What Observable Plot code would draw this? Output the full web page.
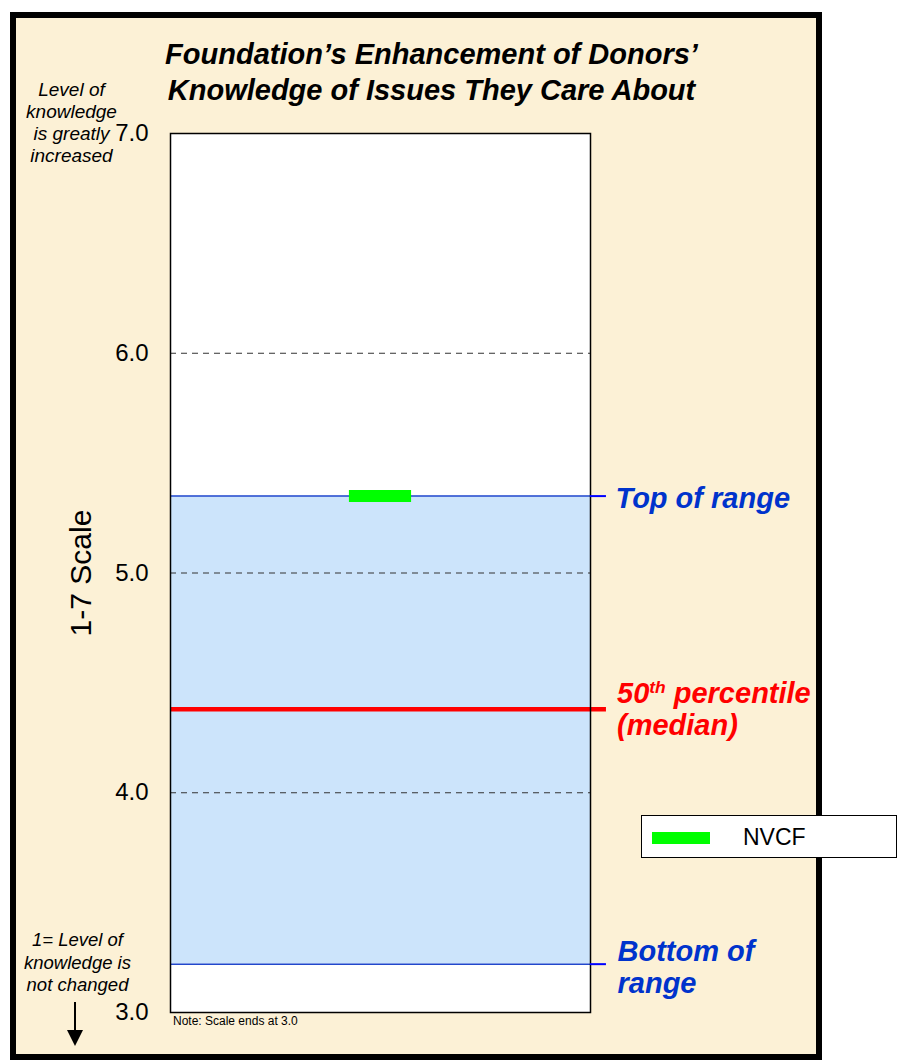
<!DOCTYPE html>
<html>
<head>
<meta charset="utf-8">
<script src="https://cdn.jsdelivr.net/npm/d3@7"></script>
<script src="https://cdn.jsdelivr.net/npm/@observablehq/plot@0.6"></script>
<style>
  html, body { margin: 0; padding: 0; background: #ffffff; }
  #wrap { position: relative; width: 899px; height: 1063px; overflow: hidden; font-family: "Liberation Sans", Arial, sans-serif; }
  #panel { position: absolute; left: 10px; top: 12px; width: 800px; height: 1036px; border: 6px solid #000; background: #FCF1D6; }
  #chart { position: absolute; left: 0; top: 0; }
  .ann { position: absolute; white-space: nowrap; }
  #title { left: 0; width: 863px; top: 36px; text-align: center; font-size: 29px; line-height: 36px; font-weight: bold; font-style: italic; color: #000; }
  #topNote { left: 11px; width: 121px; top: 79px; text-align: center; font-size: 19px; line-height: 22px; font-style: italic; color: #000; }
  #botNote { left: 17px; width: 121px; top: 929px; text-align: center; font-size: 18.5px; line-height: 22.5px; font-style: italic; color: #000; }
  #scaleNote { left: 173px; top: 1015px; font-size: 12px; line-height: 12px; color: #000; }
  #median { left: 617px; font-size: 29px; line-height: 32px; font-weight: bold; font-style: italic; color: #FF0000; }
  #median sup { font-size: 0.6em; line-height: 0; vertical-align: 0.6em; }
  #legend { left: 641px; top: 815px; width: 254px; height: 41px; border: 1.5px solid #000; background: #fff; }
  #legend .sw { position: absolute; left: 10px; top: 16px; width: 58px; height: 12px; background: #00FF00; }
  #legend .lab { position: absolute; left: 101px; top: 7px; font-size: 23px; line-height: 28px; color: #000; }
  #arrow { position: absolute; left: 0; top: 0; }
</style>
</head>
<body>
<div id="wrap">
  <div id="panel"></div>
</div>
<script>
// ---- data ----
const yDomain = [3, 7];
const yTicks = [3, 4, 5, 6, 7];
const gridValues = [4, 5, 6];
const rangeTop = 5.35;
const median = 4.38;
const rangeBottom = 3.22;
const nvcfName = ["NVCF"];
const nvcfValue = [5.35];
const titleLines = ["Foundation\u2019s Enhancement of Donors\u2019", "Knowledge of Issues They Care About"];
const topNoteLines = ["Level of", "knowledge", "is greatly", "increased"];
const botNoteLines = ["1= Level of", "knowledge is", "not changed"];
const axisLabel = "1-7 Scale";
const topLabel = "Top of range";
const bottomLabel = "Bottom of\nrange";
const scaleNote = "Note: Scale ends at 3.0";

// ---- derived tables ----
const nvcf = nvcfName.map((name, i) => ({name, value: nvcfValue[i]}));
const band = [{lo: rangeBottom, hi: rangeTop}];
const overhang = 0.038; // short markers extending past the right edge (fraction of width)

const chart = Plot.plot({
  width: 899,
  height: 1063,
  marginLeft: 170,
  marginRight: 309,
  marginTop: 133,
  marginBottom: 51,
  x: {domain: [0, 1], axis: null},
  y: {domain: yDomain, axis: null},
  style: {background: "transparent", fontFamily: "Liberation Sans, Arial, sans-serif", fontSize: "24px", overflow: "visible", color: "#000"},
  marks: [
    Plot.frame({fill: "white", stroke: null}),
    Plot.rect(band, {y1: "lo", y2: "hi", fill: "#CCE4FB"}),
    Plot.gridY(gridValues, {stroke: "#333", strokeOpacity: 1, strokeWidth: 1, strokeDasharray: "6,5"}),
    Plot.ruleY([rangeTop, rangeBottom], {stroke: "#2247CC", strokeWidth: 1.5}),
    Plot.ruleY([median], {x1: 0, x2: 1 + overhang, stroke: "#FF0000", strokeWidth: 4.5}),
    Plot.frame({stroke: "#000", strokeWidth: 1.5}),
    Plot.ruleY([rangeTop, rangeBottom], {x1: 1, x2: 1 + overhang, stroke: "#0000FF", strokeWidth: 2}),
    Plot.ruleY(nvcf, {y: "value", x1: 0.426, x2: 0.574, stroke: "#00FF00", strokeWidth: 12}),
    Plot.axisY({ticks: yTicks, tickFormat: d3.format(".1f"), tickSize: 0, tickPadding: 22, fontSize: 24, label: null}),
    Plot.text([axisLabel], {frameAnchor: "left", textAnchor: "middle", rotate: -90, dx: -89, fontSize: 30, fill: "#000"}),
    Plot.text([topLabel], {y: () => rangeTop, frameAnchor: "right", textAnchor: "start", dx: 25, dy: 3, fontSize: 29, fontWeight: "bold", fontStyle: "italic", fill: "#0033CC"}),
    Plot.text([bottomLabel], {y: () => rangeBottom, frameAnchor: "right", textAnchor: "start", dx: 27, dy: 3, lineHeight: 1.1, fontSize: 29, fontWeight: "bold", fontStyle: "italic", fill: "#0033CC"})
  ]
});
chart.id = "chart";
const wrap = document.getElementById("wrap");
wrap.appendChild(chart);

const yScale = chart.scale("y");

function addDiv(id, html, extra) {
  const d = document.createElement("div");
  d.id = id;
  d.className = "ann";
  d.innerHTML = html;
  if (extra) Object.assign(d.style, extra);
  wrap.appendChild(d);
  return d;
}
addDiv("title", titleLines.join("<br>"));
addDiv("topNote", topNoteLines.join("<br>"));
addDiv("botNote", botNoteLines.join("<br>"));
addDiv("scaleNote", scaleNote);
addDiv("median", "50<sup>th</sup> percentile<br>(median)", {top: (yScale.apply(median) - 32) + "px"});
addDiv("legend", '<div class="sw"></div><div class="lab">' + nvcfName[0] + '</div>');

// down arrow (decoration)
const ns = "http://www.w3.org/2000/svg";
const arr = document.createElementNS(ns, "svg");
arr.setAttribute("id", "arrow");
arr.setAttribute("width", 899);
arr.setAttribute("height", 1063);
arr.innerHTML = '<line x1="75" y1="1002" x2="75" y2="1032" stroke="#000" stroke-width="2"/>' +
  '<polygon points="67,1030 83,1030 75,1046" fill="#000"/>';
wrap.appendChild(arr);
</script>
</body>
</html>
